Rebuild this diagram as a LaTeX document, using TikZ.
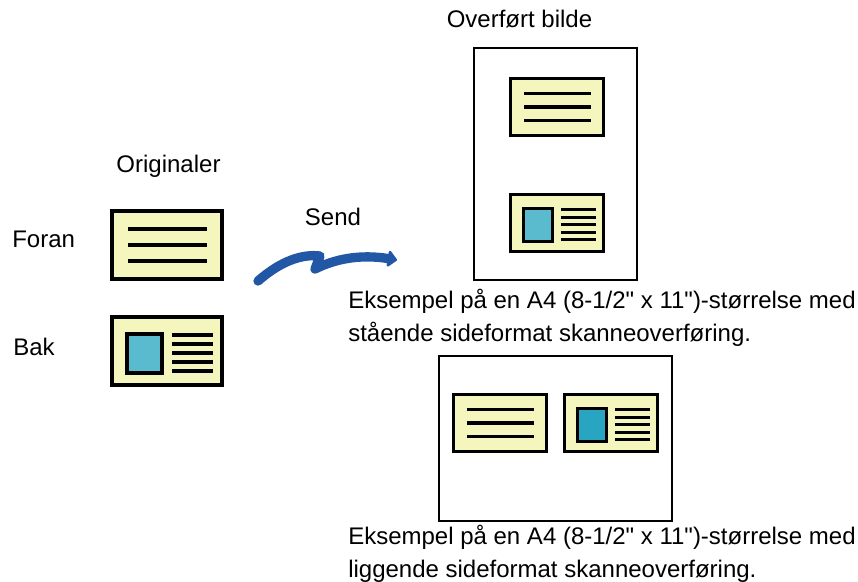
\documentclass[tikz,border=0pt]{standalone}
\usepackage{fontspec}
\setmainfont{Liberation Sans}[Ligatures=TeXOff]
\usetikzlibrary{positioning,calc,arrows.meta}
\definecolor{CardFill}{HTML}{F5F5BE}
\definecolor{PhotoLight}{HTML}{5ABBCF}
\definecolor{PhotoDark}{HTML}{27A5C1}
\definecolor{SendBlue}{HTML}{2257A6}

\begin{document}
\begin{tikzpicture}[
	x=0.75pt,y=-0.75pt,
	font=\fontsize{18pt}{24.5pt}\selectfont,
	label/.style={inner sep=0pt},
	caption/.style={inner sep=0pt,align=left,anchor=base west},
	page/.style={draw=black,line width=2.1pt,fill=white,inner sep=0pt},
	cardbox/.style={draw=black,fill=CardFill,line width=2.5pt},
	textline/.style={draw=black,line width=2.4pt},
	photo/.style={draw=black,fill=PhotoLight,line width=2.5pt},
	sendarrow/.style={draw=SendBlue,line width=7pt,line cap=round,line join=round,
		-{Triangle[round,length=7.5pt,width=14pt]}},
	pics/textcard/.style={code={
			\draw[cardbox] (-55,-34) rectangle (55,34);
			\foreach \ly in {-16,0,16}
			\draw[textline] (-39,\ly) -- (40,\ly);
	}},
	pics/photocard/.style={code={
			\draw[cardbox] (-55,-34) rectangle (55,34);
			\draw[photo] (-40,-17) rectangle (-5,22);
			\foreach \ly in {-16,-7,2,11,20}
			\draw[textline] (5,\ly) -- (46,\ly);
	}}
	]
	
	% ---------------------------------------------------------
	% ORIGINALS
	% ---------------------------------------------------------
	
	\useasboundingbox (0,0) rectangle (858,582);
	
	\node[label,anchor=base] (originals) at (168.5,172) {Originaler};
	\node[label,anchor=base west] (foran) at (12,247) {Foran};
	\node[label,anchor=base west] (bak) at (13,355) {Bak};
	
	\pic (front) at (167,245) {textcard};
	\pic (back) at (167,351) {photocard};
	
	% ---------------------------------------------------------
	% SEND
	% ---------------------------------------------------------
	
	\node[label,anchor=base] (send) at (333,225) {Send};
	
	\coordinate (sendfrom) at (258,281);
	\coordinate (sendto) at (397,260);
	
	\draw[sendarrow]
	(sendfrom) .. controls (282,260) and (303,254) .. (320,256)
	-- (315,269) .. controls (335,259) and (360,254) .. (sendto);
	
	% ---------------------------------------------------------
	% PORTRAIT
	% ---------------------------------------------------------
	
	\node[label,anchor=base] (title) at (519.5,27) {Overført bilde};
	
	\node[page,minimum width=122.25pt,minimum height=174pt] (portrait) at (555.5,164) {};
	
	\pic[scale=0.84] (porttop) at (557,107) {textcard};
	\pic[scale=0.84] (portbottom) at (557,223) {photocard};
	
	\node[caption] (portcaption) at (348,341)
	{Eksempel på en A4 (8-1/2" x 11")-størrelse med\\stående sideformat skanneoverføring.};
	
	% ---------------------------------------------------------
	% LANDSCAPE
	% ---------------------------------------------------------
	
	\node[page,minimum width=174.75pt,minimum height=123.75pt] (landscape) at (555.5,438.5) {};
	
	\pic[scale=0.84] (landleft) at (500,423) {textcard};
	\pic[scale=0.84,photo/.append style={fill=PhotoDark}] (landright) at (611,423) {photocard};
	
	\node[caption] (landcaption) at (348,577)
	{Eksempel på en A4 (8-1/2" x 11")-størrelse med\\liggende sideformat skanneoverføring.};
	
\end{tikzpicture}
\end{document}
